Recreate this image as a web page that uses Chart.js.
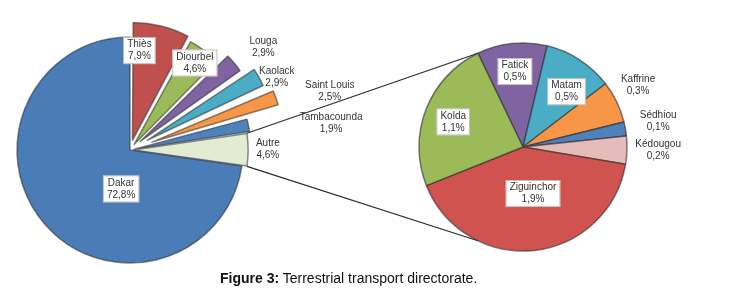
<!DOCTYPE html>
<html>
<head>
<meta charset="utf-8">
<script src="https://cdn.jsdelivr.net/npm/chart.js@4.4.0/dist/chart.umd.min.js"></script>
<style>
  html, body { margin: 0; padding: 0; background: #fff; }
  #wrap { position: relative; width: 739px; height: 298px; }
  #wrap canvas { position: absolute; left: 0; top: 0; }
  #caption { position: absolute; left: 220px; top: 270px; font: 14px "Liberation Sans", Arial, sans-serif; color: #111; white-space: nowrap; line-height: 16px; }
</style>
</head>
<body>
<div id="wrap">
  <canvas id="mainPie" width="739" height="298"></canvas>
  <canvas id="subPie" width="739" height="298"></canvas>
  <div id="caption"><b>Figure 3:</b> Terrestrial transport directorate.</div>
</div>
<script>
// regions, share in %
const mainLabels = ['Thiès', 'Diourbel', 'Louga', 'Kaolack', 'Saint Louis', 'Tambacounda', 'Autre', 'Dakar'];
const mainValues = [7.9, 4.6, 2.9, 2.9, 2.5, 1.9, 4.6, 72.8];
const mainColors = ['#c0504d', '#9bbb59', '#8064a2', '#4bacc6', '#f79646', '#4f81bd', '#e2ecd2', '#4a7cb8'];

// breakdown of "Autre"
const subLabels = ['Fatick', 'Matam', 'Kaffrine', 'Sédhiou', 'Kédougou', 'Ziguinchor', 'Kolda'];
const subValues = [0.5, 0.5, 0.3, 0.1, 0.2, 1.9, 1.1];
const subColors = ['#8064a2', '#4bacc6', '#f79646', '#4f81bd', '#e6bcba', '#d0534f', '#9bbb59'];

// label placement: k = fraction of radius along slice middle, dx/dy nudge, box = white frame
const mainPlace = [
  { k: 0.88, dx: -15, dy: -3, box: true },
  { k: 0.96, dx: 0, dy: 0, box: true },
  { k: 1.49, dx: 4, dy: 5 },
  { k: 1.45, dx: 4, dy: 8 },
  { k: 1.84, dx: 4, dy: 11 },
  { k: 1.80, dx: 2, dy: 15 },
  { k: 1.22, dx: 0, dy: -1 },
  { k: 0.35, dx: 21, dy: 13, box: true }
];
const subPlace = [
  { k: 0.73, dx: 0, dy: 0, box: true },
  { k: 0.68, dx: 5, dy: 4, box: true },
  { k: 1.26, dx: -3, dy: -5 },
  { k: 1.32, dx: 0, dy: -2 },
  { k: 1.30, dx: 0, dy: -1 },
  { k: 0.45, dx: 5, dy: 0, box: true },
  { k: 0.72, dx: 0, dy: 2, box: true }
];

const fmt = v => v.toFixed(1).replace('.', ',') + '%';

const sliceLabels = {
  id: 'sliceLabels',
  afterDatasetsDraw(chart, args, opts) {
    const ctx = chart.ctx;
    const meta = chart.getDatasetMeta(0);
    const values = chart.data.datasets[0].data;
    ctx.save();
    ctx.font = '10px "Liberation Sans", Arial, sans-serif';
    ctx.textAlign = 'center';
    ctx.textBaseline = 'middle';
    meta.data.forEach((arc, i) => {
      const p = opts.place[i];
      const { x, y, startAngle, endAngle, outerRadius } = arc.getProps(['x', 'y', 'startAngle', 'endAngle', 'outerRadius'], true);
      const mid = (startAngle + endAngle) / 2;
      const cx = x + Math.cos(mid) * outerRadius * p.k + p.dx;
      const cy = y + Math.sin(mid) * outerRadius * p.k + p.dy;
      const lines = [chart.data.labels[i], fmt(values[i])];
      if (p.box) {
        const w = Math.max(...lines.map(t => ctx.measureText(t).width)) + 8;
        const h = 27;
        ctx.fillStyle = '#fff';
        ctx.fillRect(cx - w / 2, cy - h / 2, w, h);
        ctx.strokeStyle = 'rgba(150,150,150,0.6)';
        ctx.lineWidth = 1;
        ctx.strokeRect(cx - w / 2 + 0.5, cy - h / 2 + 0.5, w - 1, h - 1);
      }
      ctx.fillStyle = '#333';
      ctx.fillText(lines[0], cx, cy - 6);
      ctx.fillText(lines[1], cx, cy + 6);
    });
    ctx.restore();
  }
};

const mainChart = new Chart(document.getElementById('mainPie'), {
  type: 'pie',
  data: {
    labels: mainLabels,
    datasets: [{
      data: mainValues,
      backgroundColor: mainColors,
      borderColor: 'rgba(45,45,45,0.55)',
      borderWidth: 1.5,
      // chart.js shifts an arc by offset/4 px (and grows thin ones by about as much)
      offset: [39, 26, 50, 77, 91, 17, 12, 0],
      clip: false
    }]
  },
  options: {
    responsive: false,
    animation: false,
    radius: 113,
    rotation: 0,
    layout: { padding: { left: 17, right: 496, top: 37, bottom: 35 } },
    plugins: {
      legend: { display: false },
      tooltip: { enabled: false },
      sliceLabels: { place: mainPlace }
    }
  },
  plugins: [sliceLabels]
});

// lines from the "Autre" slice to the second pie
const connector = {
  id: 'connector',
  beforeDatasetsDraw(chart) {
    const src = mainChart.getDatasetMeta(0).data[mainLabels.indexOf('Autre')];
    const a = src.getProps(['x', 'y', 'startAngle', 'endAngle', 'outerRadius', 'circumference'], true);
    const off = (src.options.offset || 0) / 4;
    const fix = 1 - Math.sin(Math.min(Math.PI, a.circumference || 0));
    const R = a.outerRadius + off * fix;
    const mid = (a.startAngle + a.endAngle) / 2;
    const ox = a.x + Math.cos(mid) * off, oy = a.y + Math.sin(mid) * off;
    const p1 = [ox + Math.cos(a.startAngle) * R, oy + Math.sin(a.startAngle) * R];
    const p2 = [ox + Math.cos(a.endAngle) * R, oy + Math.sin(a.endAngle) * R];
    const d = chart.getDatasetMeta(0).data[0].getProps(['x', 'y', 'startAngle', 'outerRadius'], true);
    const q1 = [d.x + Math.cos(d.startAngle) * d.outerRadius, d.y + Math.sin(d.startAngle) * d.outerRadius];
    const q2 = [q1[0], 2 * d.y - q1[1]];
    const ctx = chart.ctx;
    ctx.save();
    ctx.strokeStyle = '#2b2b2b';
    ctx.lineWidth = 1.2;
    ctx.beginPath();
    ctx.moveTo(p1[0], p1[1]); ctx.lineTo(q1[0], q1[1]);
    ctx.moveTo(p2[0], p2[1]); ctx.lineTo(q2[0], q2[1]);
    ctx.stroke();
    ctx.restore();
  }
};

new Chart(document.getElementById('subPie'), {
  type: 'pie',
  data: {
    labels: subLabels,
    datasets: [{
      data: subValues,
      backgroundColor: subColors,
      borderColor: 'rgba(45,45,45,0.6)',
      borderWidth: 1.5,
      clip: false
    }]
  },
  options: {
    responsive: false,
    animation: false,
    radius: 104,
    rotation: -25.7,
    layout: { padding: { left: 410, right: 103, top: 34, bottom: 38 } },
    plugins: {
      legend: { display: false },
      tooltip: { enabled: false },
      sliceLabels: { place: subPlace }
    }
  },
  plugins: [connector, sliceLabels]
});
</script>
</body>
</html>
